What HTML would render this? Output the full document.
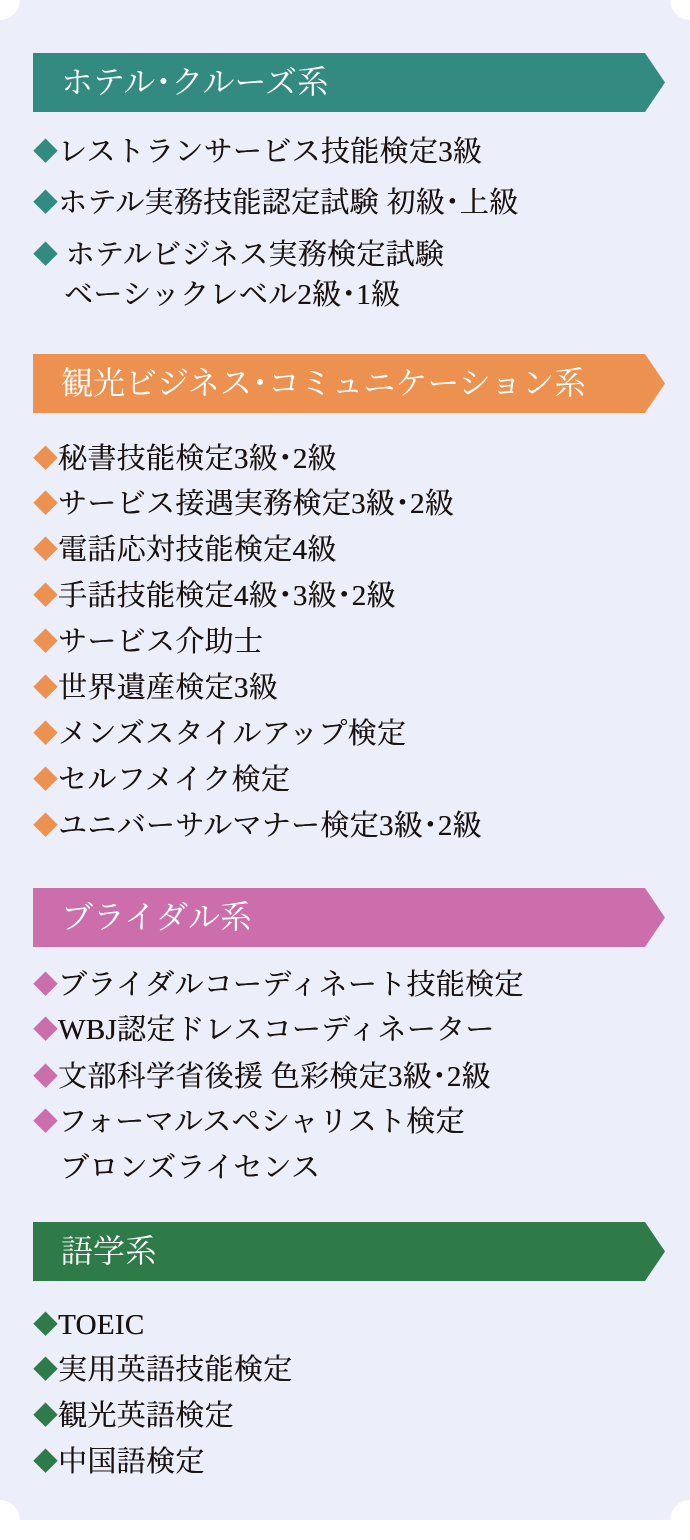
<!DOCTYPE html>
<html><head><meta charset="utf-8"><style>
body{margin:0;width:690px;height:1520px;background:#fff;position:relative;overflow:hidden;font-family:"Liberation Serif","Noto Serif CJK JP",serif;}
.bg{position:absolute;left:0;top:0;width:690px;height:1520px;background:#eceef9;}
.c{position:absolute;width:40px;height:40px;border-radius:50%;background:#fff;}
.b{position:absolute;left:33px;width:632px;height:59px;clip-path:polygon(0 0,612px 0,632px 50%,612px 100%,0 100%);color:#fff;font-size:32px;line-height:59px;padding-left:28px;box-sizing:border-box;}
.i{position:absolute;left:33px;font-size:29px;letter-spacing:0.3px;line-height:34px;color:#1a1210;white-space:nowrap;text-shadow:0.3px 0 0 #1a1210;}
.i span{font-size:25px;text-shadow:none;display:inline-block;width:25px;vertical-align:1px;letter-spacing:0;}
</style></head><body>
<div class="bg"></div>
<div class="c" style="left:-20px;top:-20px"></div>
<div class="c" style="right:-20px;top:-20px"></div>
<div class="c" style="left:-20px;bottom:-20px"></div>
<div class="c" style="right:-20px;bottom:-20px"></div>

<div class="b" style="top:53px;background:#338a80">ホテル･クルーズ系</div>
<div class="i" style="top:135px"><span style="color:#338a80">◆</span>レストランサービス技能検定3級</div>
<div class="i" style="top:186px"><span style="color:#338a80">◆</span>ホテル実務技能認定試験 初級･上級</div>
<div class="i" style="top:238px"><span style="color:#338a80">◆</span> ホテルビジネス実務検定試験</div>
<div class="i" style="top:278px;left:64px">ベーシックレベル2級･1級</div>

<div class="b" style="top:354px;background:#ec9150">観光ビジネス･コミュニケーション系</div>
<div class="i" style="top:442px"><span style="color:#ec9150">◆</span>秘書技能検定3級･2級</div>
<div class="i" style="top:487px"><span style="color:#ec9150">◆</span>サービス接遇実務検定3級･2級</div>
<div class="i" style="top:533px"><span style="color:#ec9150">◆</span>電話応対技能検定4級</div>
<div class="i" style="top:579px"><span style="color:#ec9150">◆</span>手話技能検定4級･3級･2級</div>
<div class="i" style="top:625px"><span style="color:#ec9150">◆</span>サービス介助士</div>
<div class="i" style="top:671px"><span style="color:#ec9150">◆</span>世界遺産検定3級</div>
<div class="i" style="top:717px"><span style="color:#ec9150">◆</span>メンズスタイルアップ検定</div>
<div class="i" style="top:763px"><span style="color:#ec9150">◆</span>セルフメイク検定</div>
<div class="i" style="top:809px"><span style="color:#ec9150">◆</span>ユニバーサルマナー検定3級･2級</div>

<div class="b" style="top:888px;background:#cc6eab">ブライダル系</div>
<div class="i" style="top:968px"><span style="color:#cc6eab">◆</span>ブライダルコーディネート技能検定</div>
<div class="i" style="top:1013px"><span style="color:#cc6eab">◆</span>WBJ認定ドレスコーディネーター</div>
<div class="i" style="top:1060px"><span style="color:#cc6eab">◆</span>文部科学省後援 色彩検定3級･2級</div>
<div class="i" style="top:1105px"><span style="color:#cc6eab">◆</span>フォーマルスペシャリスト検定</div>
<div class="i" style="top:1151px;left:60px">ブロンズライセンス</div>

<div class="b" style="top:1222px;background:#2e7a48">語学系</div>
<div class="i" style="top:1308px"><span style="color:#2e7a48">◆</span>TOEIC</div>
<div class="i" style="top:1353px"><span style="color:#2e7a48">◆</span>実用英語技能検定</div>
<div class="i" style="top:1399px"><span style="color:#2e7a48">◆</span>観光英語検定</div>
<div class="i" style="top:1445px"><span style="color:#2e7a48">◆</span>中国語検定</div>
</body></html>
